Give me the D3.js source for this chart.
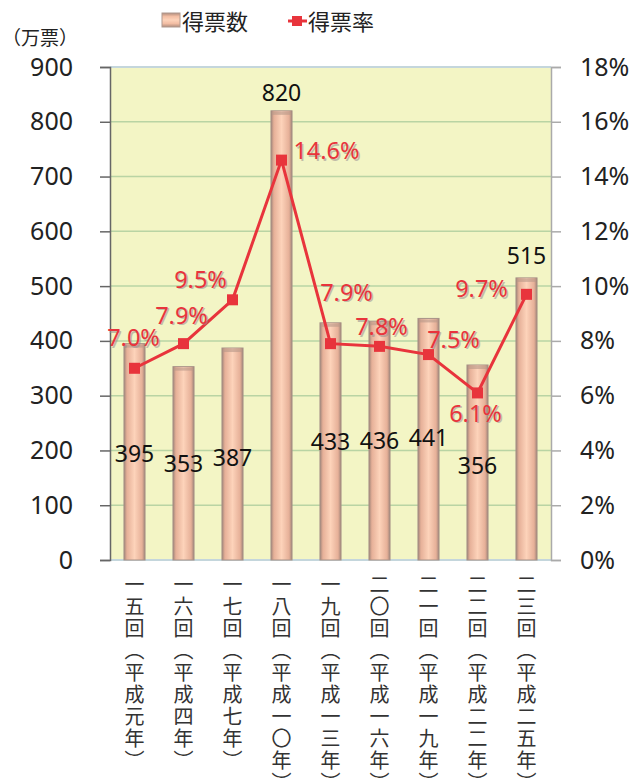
<!DOCTYPE html>
<html>
<head>
<meta charset="utf-8">
<script src="https://cdn.jsdelivr.net/npm/d3@7"></script>
<style>
  body { margin: 0; background: #fff; }
  svg { display: block; }
</style>
</head>
<body>
<svg id="chart" width="644" height="778"></svg>
<script>
// data
let elections = ["一五回（平成元年）", "一六回（平成四年）", "一七回（平成七年）", "一八回（平成一〇年）",
  "一九回（平成一三年）", "二〇回（平成一六年）", "二一回（平成一九年）", "二二回（平成二二年）", "二三回（平成二五年）"];
let votes = [395, 353, 387, 820, 433, 436, 441, 356, 515];
let voteRate = [7.0, 7.9, 9.5, 14.6, 7.9, 7.8, 7.5, 6.1, 9.7];
let voteTicks = [0, 100, 200, 300, 400, 500, 600, 700, 800, 900];
let rateTicks = [0, 2, 4, 6, 8, 10, 12, 14, 16, 18];

let redColor = "#e8343c";
let numFont = "'Noto Sans', 'Liberation Sans', sans-serif";
let cjkFont = "'Noto Sans CJK JP', sans-serif";

let plotLeft = 110, plotRight = 551, plotTop = 67, plotBottom = 560;

let svg = d3.select("#chart");

let x = d3.scaleBand().domain(elections).range([plotLeft, plotRight]).paddingInner(0.57).paddingOuter(0.285);
let y = d3.scaleLinear().domain([0, 900]).range([plotBottom, plotTop]);
let y2 = d3.scaleLinear().domain([0, 18]).range([plotBottom, plotTop]);

// gradients
let defs = svg.append("defs");
let grad = defs.append("linearGradient").attr("id", "barGrad");
[["0%", "#a08478"], ["14%", "#e6b098"], ["50%", "#fdd3ba"], ["86%", "#e6b098"], ["100%", "#a08478"]]
  .forEach(function(s) { grad.append("stop").attr("offset", s[0]).attr("stop-color", s[1]); });
let gradV = defs.append("linearGradient").attr("id", "legGrad").attr("x2", 0).attr("y2", 1);
[["0%", "#b08c7c"], ["25%", "#f3bea4"], ["50%", "#fdd3ba"], ["75%", "#f3bea4"], ["100%", "#b08c7c"]]
  .forEach(function(s) { gradV.append("stop").attr("offset", s[0]).attr("stop-color", s[1]); });

// plot background
svg.append("rect")
  .attr("x", plotLeft).attr("y", plotTop)
  .attr("width", plotRight - plotLeft).attr("height", plotBottom - plotTop)
  .style("fill", "#f3f5c5");

// gridlines
svg.selectAll(".grid")
  .data(voteTicks.slice(1, -1))
  .enter()
  .append("line")
    .attr("x1", plotLeft).attr("x2", plotRight)
    .attr("y1", function(d) { return y(d); })
    .attr("y2", function(d) { return y(d); })
    .style("stroke", "#b9d4a4")
    .style("stroke-width", "1.5px");

svg.append("line")
  .attr("x1", plotLeft).attr("x2", plotRight).attr("y1", plotTop).attr("y2", plotTop)
  .style("stroke", "#c4d6dc").style("stroke-width", "2px");
svg.append("line")
  .attr("x1", plotLeft).attr("x2", plotRight).attr("y1", plotBottom).attr("y2", plotBottom)
  .style("stroke", "#c4d6dc").style("stroke-width", "2px");

// bars
svg.selectAll(".bar")
  .data(votes)
  .enter()
  .append("rect")
    .attr("x", function(d, i) { return x(elections[i]); })
    .attr("y", function(d) { return y(d); })
    .attr("width", x.bandwidth())
    .attr("height", function(d) { return plotBottom - y(d); })
    .style("fill", "url(#barGrad)")
    .style("stroke", "#a89288")
    .style("stroke-width", "1px");
svg.selectAll(".barTop")
  .data(votes)
  .enter()
  .append("rect")
    .attr("x", function(d, i) { return x(elections[i]) + 1; })
    .attr("y", function(d) { return y(d) + 1; })
    .attr("width", x.bandwidth() - 2)
    .attr("height", 3)
    .style("fill", "#b89888")
    .style("opacity", 0.6);

// axes
let leftAxis = svg.append("g")
  .attr("transform", "translate(" + plotLeft + ",0)")
  .call(d3.axisLeft(y).tickValues(voteTicks).tickSize(10).tickPadding(27));
leftAxis.select(".domain").style("stroke", "#666").style("stroke-width", "1.5px");
leftAxis.selectAll(".tick line").style("stroke", "#666").style("stroke-width", "1.5px");
leftAxis.selectAll("text")
  .style("font-family", numFont)
  .style("font-size", "25px")
  .style("fill", "#222");

let rightAxis = svg.append("g")
  .attr("transform", "translate(" + plotRight + ",0)")
  .call(d3.axisRight(y2).tickValues(rateTicks).tickSize(10).tickPadding(19)
    .tickFormat(function(d) { return d + "%"; }));
rightAxis.select(".domain").style("stroke", "#aaa").style("stroke-width", "1.5px");
rightAxis.selectAll(".tick line").style("stroke", "#aaa").style("stroke-width", "1.5px");
rightAxis.selectAll("text")
  .style("font-family", numFont)
  .style("font-size", "25px")
  .style("fill", "#222");

// unit label
svg.append("text")
  .attr("x", 2).attr("y", 36)
  .text("（万票）")
  .style("dominant-baseline", "central")
  .style("font-family", cjkFont)
  .style("font-size", "19px")
  .style("fill", "#222");

// x labels (vertical)
svg.selectAll(".xLabel")
  .data(elections)
  .enter()
  .append("text")
    .attr("x", function(d) { return x(d) + x.bandwidth() / 2; })
    .attr("y", 574)
    .text(function(d) { return d; })
    .attr("writing-mode", "vertical-rl")
    .style("letter-spacing", "2px")
    .style("font-family", cjkFont)
    .style("font-size", "20px")
    .style("fill", "#333");

// bar value labels (Excel-style placement)
let barLabelDy = [-107, -97, -103, -19, -119, -120, -123, -95, -23];
let barLabelFromTop = [false, false, false, true, false, false, false, false, true];
svg.selectAll(".barLabel")
  .data(votes)
  .enter()
  .append("text")
    .attr("x", function(d, i) { return x(elections[i]) + x.bandwidth() / 2; })
    .attr("y", function(d, i) { return (barLabelFromTop[i] ? y(d) : y(0)) + barLabelDy[i]; })
    .text(function(d) { return d; })
    .style("text-anchor", "middle")
    .style("dominant-baseline", "central")
    .style("font-family", numFont)
    .style("font-size", "23px")
    .style("fill", "#111");

// rate line
let line = d3.line()
  .x(function(d, i) { return x(elections[i]) + x.bandwidth() / 2; })
  .y(function(d) { return y2(d); });
svg.append("path")
  .datum(voteRate)
  .attr("d", line)
  .style("fill", "none")
  .style("stroke", redColor)
  .style("stroke-width", "3px");
svg.selectAll(".marker")
  .data(voteRate)
  .enter()
  .append("rect")
    .attr("x", function(d, i) { return x(elections[i]) + x.bandwidth() / 2 - 5.5; })
    .attr("y", function(d) { return y2(d) - 5.5; })
    .attr("width", 11).attr("height", 11)
    .style("fill", redColor);

// rate labels (grey shadow copy first, then red)
let rateDx = [-1, -2, -32, 45, 16, 2, 25, -2, -45];
let rateDy = [-31, -29, -21, -10, -52, -20, -16, 20, -6];
[["#9a8f8f", 1.5, 0.55], [redColor, 0, 1]].forEach(function(s, k) {
  svg.selectAll(".rateLabel" + k)
    .data(voteRate)
    .enter()
    .append("text")
      .attr("class", "rateLabel" + k)
      .attr("x", function(d, i) { return x(elections[i]) + x.bandwidth() / 2 + rateDx[i] + s[1]; })
      .attr("y", function(d, i) { return y2(d) + rateDy[i] + s[1]; })
      .text(function(d) { return d.toFixed(1) + "%"; })
      .style("text-anchor", "middle")
      .style("dominant-baseline", "central")
      .style("font-family", numFont)
      .style("font-size", "23.5px")
      .style("fill", s[0])
      .style("opacity", s[2]);
});

// legend
svg.append("rect")
  .attr("x", 162).attr("y", 13).attr("width", 18).attr("height", 14)
  .style("fill", "url(#legGrad)")
  .style("stroke", "#b09a90");
svg.append("text")
  .attr("x", 182).attr("y", 20)
  .text("得票数")
  .style("dominant-baseline", "central")
  .style("font-family", cjkFont)
  .style("font-size", "22px")
  .style("fill", "#222");
svg.append("line")
  .attr("x1", 288).attr("x2", 307).attr("y1", 21).attr("y2", 21)
  .style("stroke", redColor).style("stroke-width", "3px");
svg.append("rect")
  .attr("x", 292).attr("y", 16).attr("width", 10).attr("height", 10)
  .style("fill", redColor);
svg.append("text")
  .attr("x", 308).attr("y", 20)
  .text("得票率")
  .style("dominant-baseline", "central")
  .style("font-family", cjkFont)
  .style("font-size", "22px")
  .style("fill", "#222");
</script>
</body>
</html>
